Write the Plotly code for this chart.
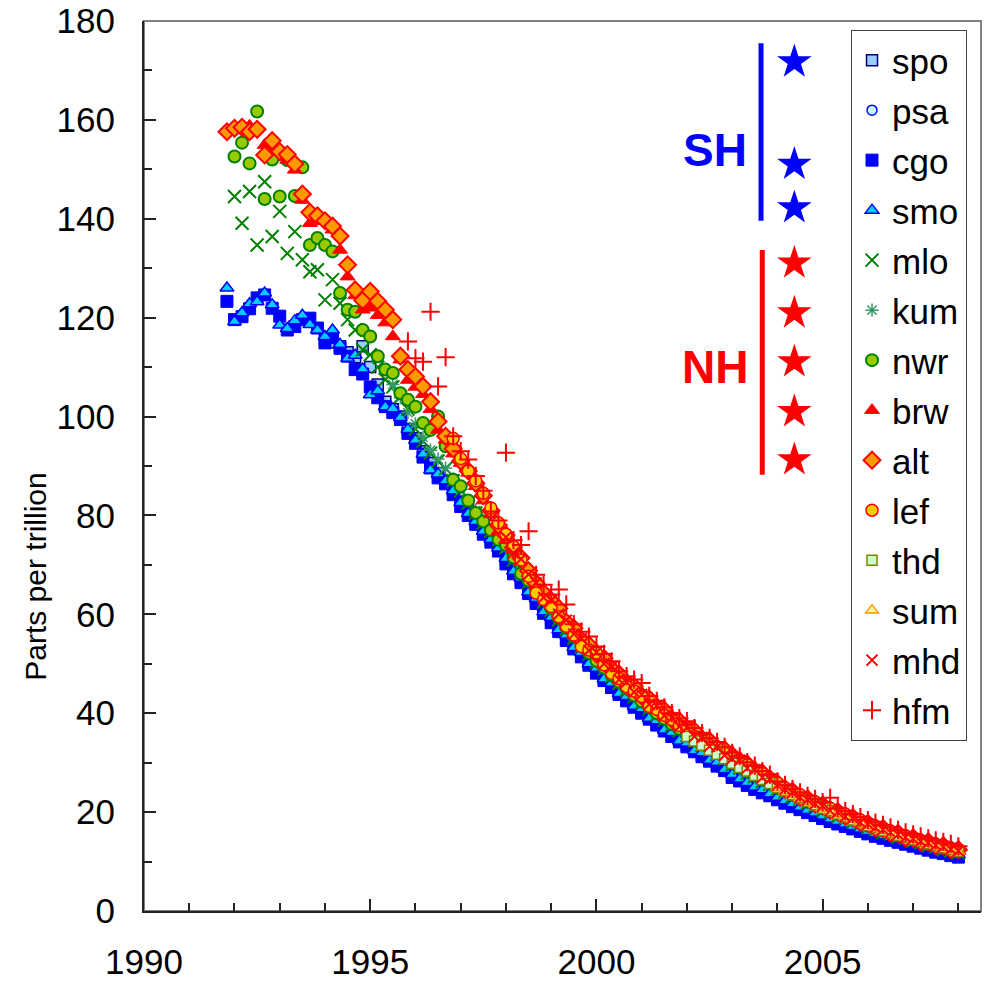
import plotly.graph_objects as go

# ---------------- data (ppt), 2-monthly samples ----------------
STEP = 1.0 / 6.0
GRID0 = 1991.0 + 10.0 / 12.0   # first sample time (Nov 1991)

spo_start = 13
spo = [115.5, 115.0, 114.2, 113.0, 112.0, 114.2,
       110.0, 106.5, 103.0, 101.5, 100.0, 97.5,
       95.6, 93.0, 90.6, 88.6, 87.0, 85.2,
       82.8, 81.0, 79.0, 77.2, 75.4, 73.6,
       71.2, 69.0, 67.0, 65.0, 63.0, 61.0,
       59.0, 57.2, 55.4, 53.6, 51.9, 50.2,
       48.6, 47.1, 45.6, 44.2, 42.9, 41.6,
       40.3, 39.1, 37.9, 36.8, 35.7, 34.6,
       33.5, 32.5, 31.5, 30.6, 29.7, 28.8,
       27.3, 26.4, 25.7, 24.8, 24.2, 23.4,
       22.7, 22.0, 21.3, 20.7, 20.1, 19.5,
       18.9, 18.3, 17.8, 17.3, 16.8, 16.3,
       15.8, 15.3, 14.9, 14.5, 14.1, 13.7,
       13.3, 12.9, 12.5, 12.1, 11.8, 11.4,
       11.1]

psa_start = 31
psa = [82.4, 80.6, 78.6, 76.8, 75.0, 73.2,
       70.8, 68.6, 66.7, 64.6, 62.6, 60.6,
       58.7, 56.9, 55.1, 53.3, 51.6, 50.0,
       48.4, 46.9, 45.4, 44.0, 42.7, 41.4,
       40.2, 39.0, 37.8, 36.6, 35.5, 34.4,
       33.4, 32.4, 31.4, 30.5, 29.6, 28.7,
       27.4, 26.6, 25.8, 25.0, 24.3, 23.6,
       22.9, 22.2, 21.5, 20.9, 20.3, 19.7,
       19.1, 18.5, 18.0, 17.5, 17.0, 16.5,
       16.0, 15.5, 15.1, 14.7, 14.3, 13.9,
       13.5, 13.1, 12.7, 12.3, 12.0, 11.6,
       11.3]

cgo_start = 0
cgo = [123.3,
       119.6, 120.2, 121.8, 124.0, 124.6, 121.9,
       120.3, 117.5, 118.2, 119.6, 119.9, 117.9,
       114.9, 116.0, 113.8, 112.2, 109.5, 108.6,
       106.0, 103.8, 102.0, 100.8, 99.4, 96.6,
       94.6, 91.8, 89.6, 87.6, 86.4, 84.2,
       81.8, 80.0, 78.2, 76.2, 74.6, 72.8,
       70.2, 68.2, 66.4, 64.2, 62.2, 60.2,
       58.3, 56.5, 54.7, 53.0, 51.4, 49.7,
       48.1, 46.6, 45.2, 43.8, 42.5, 41.2,
       40.0, 38.8, 37.6, 36.4, 35.3, 34.2,
       33.2, 32.2, 31.2, 30.3, 29.3, 28.4,
       27.0, 26.3, 25.4, 24.6, 23.9, 23.3,
       22.5, 21.8, 21.1, 20.5, 19.9, 19.3,
       18.7, 18.1, 17.6, 17.1, 16.6, 16.1,
       15.6, 15.1, 14.7, 14.3, 13.9, 13.5,
       13.1, 12.7, 12.3, 11.9, 11.6, 11.2,
       10.9]

smo_start = 0
smo = [126.0,
       119.2, 121.0, 122.8, 123.2, 125.0, 122.6,
       118.5, 117.8, 119.4, 120.5, 118.6, 117.5,
       116.2, 117.5, 114.6, 111.8, 112.4, 109.6,
       104.4, 105.2, 102.0, 101.6, 99.8, 97.4,
       95.2, 92.4, 89.2, 88.4, 87.0, 85.0,
       82.6, 80.4, 78.8, 76.8, 75.2, 73.4,
       71.3, 68.7, 67.3, 64.5, 63.2, 60.5,
       59.4, 56.9, 55.8, 53.3, 52.3, 50.0,
       49.1, 46.9, 46.1, 44.0, 43.4, 41.4,
       40.9, 39.0, 38.5, 36.6, 36.1, 34.4,
       34.0, 32.4, 32.0, 30.5, 30.1, 28.6,
       27.6, 26.7, 26.0, 25.1, 24.5, 23.7,
       23.0, 22.3, 21.7, 21.0, 20.4, 19.8,
       19.2, 18.6, 18.1, 17.6, 17.1, 16.6,
       16.1, 15.6, 15.2, 14.8, 14.4, 14.0,
       13.6, 13.2, 12.8, 12.4, 12.1, 11.7,
       11.4]

mlo_start = 1
mlo = [144.5, 139.1, 145.5, 134.7, 147.5, 136.4,
       141.5, 133.0, 137.4, 131.7, 129.3, 129.7,
       123.6, 127.7, 122.9, 119.6, 117.5, 113.5,
       112.5, 110.0, 107.5, 106.0, 104.0, 101.5,
       97.5, 95.0, 92.6, 91.0, 89.5, 87.0,
       85.0, 82.5, 80.5, 78.5, 76.8, 75.0,
       73.5, 71.0, 68.5, 66.5, 65.0, 62.5,
       60.8, 58.9, 57.0, 55.2, 53.5, 51.9,
       50.3, 48.9, 47.4, 46.0, 44.7, 43.3,
       42.1, 40.9, 39.7, 38.6, 37.5, 36.5,
       35.5, 34.5, 33.5, 32.6, 31.7, 30.8,
       29.6, 28.9, 27.8, 27.2, 26.2, 25.6,
       24.6, 24.0, 23.1, 22.6, 21.8, 21.3,
       20.4, 19.9, 19.1, 18.8, 18.0, 17.7,
       16.9, 16.5, 15.8, 15.6, 14.9, 14.7,
       14.1, 13.8, 13.2, 13.0, 12.4, 12.2,
       11.8]

kum_start = 22
kum = [106.5, 103.8, 100.8,
       98.5, 95.8, 93.2, 91.4, 89.6, 87.4,
       85.3, 83.0, 81.0, 79.0, 77.0, 75.2,
       73.4, 71.2, 68.8, 66.7, 64.8, 62.7,
       60.9, 59.0, 57.1, 55.3, 53.6, 52.0,
       50.4, 49.0, 47.5, 46.1, 44.8, 43.5,
       42.2, 41.0, 39.8, 38.7, 37.6, 36.6,
       35.6, 34.6, 33.6, 32.7, 31.8, 30.9,
       29.8, 28.8, 28.0, 27.1, 26.4, 25.5,
       24.7, 23.9, 23.3, 22.5, 22.0, 21.2,
       20.5, 19.8, 19.3, 18.6, 18.2, 17.6,
       17.0, 16.4, 16.0, 15.5, 15.1, 14.6,
       14.2, 13.7, 13.4, 12.9, 12.6, 12.1,
       11.9]

nwr_start = 1
nwr = [152.6, 155.4, 151.2, 161.7, 144.0, 152.0,
       144.5, 151.9, 144.6, 150.4, 134.7, 136.1,
       134.7, 133.4, 125.0, 121.6, 121.2, 117.5,
       116.2, 112.2, 109.5, 108.8, 104.7, 103.4,
       102.0, 98.7, 97.3, 100.0, 94.0, 87.2,
       85.9, 83.0, 80.5, 78.8, 77.0, 75.1,
       74.0, 71.5, 68.2, 66.8, 65.2, 63.0,
       61.2, 59.2, 57.3, 55.5, 53.8, 52.2,
       50.6, 49.2, 47.7, 46.3, 45.0, 43.6,
       42.4, 41.2, 40.0, 38.9, 37.8, 36.8,
       35.8, 34.8, 33.8, 32.9, 32.0, 31.1,
       29.9, 29.1, 28.2, 27.4, 26.6, 25.8,
       24.9, 24.2, 23.5, 22.8, 22.1, 21.5,
       20.8, 20.2, 19.6, 19.0, 18.5, 17.9,
       17.3, 16.8, 16.3, 15.8, 15.4, 14.9,
       14.5, 14.0, 13.6, 13.2, 12.8, 12.4,
       12.0]

brw_start = 3
brw = [158.8, 158.5, 154.9, 153.6,
       153.6, 151.9, 149.9, 143.8, 139.1, 141.0,
       139.5, 137.8, 133.7, 128.3, 124.5, 121.6,
       122.0, 120.5, 119.0, 116.2, 111.5, 107.4,
       106.0, 104.5, 101.5, 97.3, 95.3, 92.5,
       90.6, 88.6, 85.9, 83.0, 80.2, 76.8,
       75.0, 73.0, 70.6, 68.3, 65.8, 63.8,
       62.0, 60.0, 58.6, 56.0, 54.9, 52.7,
       52.1, 50.0, 49.1, 46.8, 46.1, 44.3,
       43.6, 41.8, 41.3, 39.5, 38.9, 37.3,
       36.9, 35.3, 34.9, 33.3, 33.0, 31.5,
       31.0, 30.3, 29.0, 28.4, 27.2, 26.5,
       25.3, 24.8, 23.7, 23.2, 22.3, 21.9,
       21.0, 20.6, 19.8, 19.4, 18.6, 18.2,
       17.4, 17.1, 16.4, 16.1, 15.4, 15.1,
       14.5, 14.3, 13.7, 13.5, 12.9, 12.7,
       12.1]

alt_start = 0
alt = [157.6,
       158.3, 158.5, 157.6, 158.1, 152.9, 155.8,
       153.6, 153.0, 151.1, 145.0, 141.3, 140.6,
       139.6, 138.5, 136.5, 130.7, 125.6, 123.5,
       125.3, 123.3, 121.6, 119.6, 112.2, 109.5,
       108.1, 106.1, 103.0, 99.0, 96.0, 93.5,
       91.0, 89.0, 86.5, 84.0, 81.0, 78.0,
       76.0, 73.5, 71.4, 68.8, 66.3, 64.3,
       62.7, 61.2, 58.4, 57.2, 54.8, 53.8,
       52.0, 51.1, 49.0, 47.9, 46.0, 45.4,
       43.5, 42.9, 41.2, 40.6, 38.8, 38.4,
       36.8, 36.4, 34.8, 34.4, 33.0, 32.6,
       31.5, 30.4, 29.7, 28.4, 27.9, 26.7,
       25.8, 24.7, 24.2, 23.0, 22.7, 21.6,
       21.4, 20.4, 20.1, 19.2, 18.9, 17.9,
       17.7, 16.8, 16.7, 15.8, 15.7, 14.8,
       14.8, 14.0, 14.0, 13.2, 13.2, 12.4,
       12.4]

lef_start = 30
lef = [95.6,
       91.5, 89.0, 87.0, 84.5, 81.5, 78.5,
       76.2, 73.7, 71.0, 67.7, 64.3, 63.0,
       61.6, 59.5, 57.6, 55.8, 53.5, 52.8,
       52.2, 49.8, 48.1, 47.0, 45.4, 44.5,
       43.4, 41.4, 40.8, 39.6, 38.7, 37.5,
       36.6, 35.3, 34.5, 33.5, 33.0, 31.9,
       31.2, 30.0, 29.6, 28.1, 27.8, 26.4,
       25.9, 24.9, 24.0, 23.5, 22.5, 22.1,
       21.2, 20.8, 19.9, 19.6, 18.6, 18.4,
       17.5, 17.2, 16.4, 16.2, 15.3, 15.2,
       14.5, 14.3, 13.6, 13.5, 12.8, 12.7,
       12.1]

thd_start = 61
thd = [35.3, 34.4, 33.5, 32.5, 31.7, 30.8,
       29.9, 29.0, 28.3, 27.4, 26.6, 25.8,
       25.0, 24.3, 23.5, 22.9, 22.2, 21.5,
       20.8, 20.3, 19.6, 19.1, 18.4, 18.0,
       17.3, 16.9, 16.3, 15.9, 15.3, 15.0,
       14.4, 14.1, 13.6, 13.3, 12.8, 12.5,
       12.1]

sum_start = 73
sum_ = [24.9, 24.2, 23.5, 22.8, 22.1, 21.5,
        20.8, 20.2, 19.6, 19.0, 18.5, 17.9,
        17.3, 16.8, 16.3, 15.8, 15.4, 14.9,
        14.4, 14.0, 13.6, 13.2, 12.8, 12.4,
        12.0]

mhd_start = 37
mhd = [75.6, 72.4, 71.2, 68.1, 66.4, 63.4,
       62.8, 60.0, 58.8, 56.0, 55.1, 52.7,
       52.3, 50.0, 49.3, 46.8, 46.3, 44.3,
       43.8, 41.8, 41.5, 39.5, 39.1, 37.3,
       37.1, 35.3, 35.1, 33.3, 33.2, 31.5,
       30.8, 30.5, 28.9, 28.6, 27.0, 26.7,
       25.4, 24.6, 23.9, 23.0, 22.5, 21.7,
       21.2, 20.3, 20.0, 19.1, 18.8, 17.9,
       17.6, 16.9, 16.5, 15.9, 15.5, 14.9,
       14.6, 14.1, 13.8, 13.3, 13.0, 12.5,
       12.2]

hfm_start = 24
hfm = [115.2,
       111.8, 111.1, 121.2, 106.1, 112.0, 96.0,
       93.0, 91.3, 88.0, 85.0, 80.8, 79.0,
       92.7, 75.0, 74.0, 76.8, 68.0, 66.0,
       64.0, 65.0, 62.0, 58.0, 56.5, 55.5,
       53.5, 52.0, 50.5, 48.5, 47.5, 46.8,
       46.1, 43.5, 42.5, 41.2, 40.0, 39.0,
       38.4, 37.0, 36.0, 35.0, 34.2, 33.2,
       32.0, 31.3, 30.1, 29.4, 28.3, 27.6,
       26.2, 25.5, 24.7, 24.0, 23.3, 22.7,
       22.0, 22.9, 20.8, 20.2, 19.6, 19.0,
       18.4, 17.9, 17.4, 16.9, 16.4, 15.9,
       15.5, 15.1, 14.7, 14.3, 14.0, 13.6,
       13.1]

x_ticks = [1990, 1995, 2000, 2005]
y_ticks = [0, 20, 40, 60, 80, 100, 120, 140, 160, 180]

# ---------------- styling ----------------
FONT = "Liberation Sans, Arial, sans-serif"

series = [
    ("spo", spo_start, spo, dict(symbol="square", size=11, color="#99CCFF", line=dict(color="#000080", width=1.5))),
    ("psa", psa_start, psa, dict(symbol="circle", size=10, color="#CCFFFF", line=dict(color="#0000FF", width=1.5))),
    ("cgo", cgo_start, cgo, dict(symbol="square", size=12, color="#0000FF", line=dict(color="#0000FF", width=1))),
    ("smo", smo_start, smo, dict(symbol="triangle-up", size=12, color="#00CCFF", line=dict(color="#0000FF", width=1.5))),
    ("mlo", mlo_start, mlo, dict(symbol="x-thin", size=13, color="#008000", line=dict(color="#008000", width=2))),
    ("kum", kum_start, kum, dict(symbol="asterisk", size=11, color="#339966", line=dict(color="#339966", width=1.5))),
    ("nwr", nwr_start, nwr, dict(symbol="circle", size=12, color="#99CC00", line=dict(color="#008000", width=2))),
    ("brw", brw_start, brw, dict(symbol="triangle-up", size=13, color="#FF0000", line=dict(color="#FF0000", width=1))),
    ("alt", alt_start, alt, dict(symbol="diamond", size=13, color="#FF9900", line=dict(color="#FF0000", width=2))),
    ("lef", lef_start, lef, dict(symbol="circle", size=12, color="#FFCC00", line=dict(color="#FF0000", width=1.5))),
    ("thd", thd_start, thd, dict(symbol="square", size=10, color="#CCFFCC", line=dict(color="#808000", width=1.5))),
    ("sum", sum_start, sum_, dict(symbol="triangle-up", size=11, color="#FFFF99", line=dict(color="#FF9900", width=1.5))),
    ("mhd", mhd_start, mhd, dict(symbol="x-thin", size=11, color="#FF0000", line=dict(color="#FF0000", width=2))),
    ("hfm", hfm_start, hfm, dict(symbol="cross-thin", size=13, color="#FF0000", line=dict(color="#FF0000", width=2))),
]

fig = go.Figure()
for name, start, vals, mk in series:
    xs = [GRID0 + (start + i) * STEP for i in range(len(vals))]
    fig.add_trace(go.Scatter(x=xs, y=vals, mode="markers", name=name,
                             legendgroup=name, marker=mk))

# hemisphere stars (decoration, on an invisible 0..1 overlay axis)
star_x = [0.777] * 8
star_y = [0.954, 0.839, 0.790, 0.728, 0.672, 0.617, 0.561, 0.507]
star_c = ["#0000FF"] * 3 + ["#FF0000"] * 5
fig.add_trace(go.Scatter(x=star_x, y=star_y, mode="markers", xaxis="x2", yaxis="y2",
                         showlegend=False, hoverinfo="skip",
                         marker=dict(symbol="star", size=26, color=star_c, line=dict(width=0))))

fig.update_layout(
    width=986, height=981,
    margin=dict(l=144, r=5, t=21, b=70),
    paper_bgcolor="white", plot_bgcolor="white",
    font=dict(family=FONT, color="black"),
    showlegend=True,
    legend=dict(x=0.8447, y=0.99, xanchor="left", yanchor="top",
                font=dict(family=FONT, size=35, color="black"),
                bgcolor="white", bordercolor="#404040", borderwidth=1,
                traceorder="grouped", tracegroupgap=1.5, itemsizing="trace"),
    xaxis=dict(range=[1990, 2008.5], tickvals=x_ticks, ticks="inside", ticklen=12,
               tickwidth=1.5, tickcolor="#222", showline=True, linecolor="#222", linewidth=2,
               showgrid=False, zeroline=False, tickfont=dict(size=35, family=FONT),
               ticklabelstandoff=19, automargin=False,
               minor=dict(dtick=1, tick0=1990, ticks="inside", ticklen=8, tickcolor="#222", tickwidth=1.5, showgrid=False)),
    yaxis=dict(range=[0, 180], tickvals=y_ticks, ticks="inside", ticklen=12,
               tickwidth=1.5, tickcolor="#222", showline=True, linecolor="#222", linewidth=2,
               showgrid=False, zeroline=False, tickfont=dict(size=35, family=FONT),
               ticklabelstandoff=20, automargin=False,
               minor=dict(dtick=10, tick0=0, ticks="inside", ticklen=8, tickcolor="#222", tickwidth=1.5, showgrid=False)),
    xaxis2=dict(overlaying="x", range=[0, 1], visible=False),
    yaxis2=dict(overlaying="y", range=[0, 1], visible=False),
    shapes=[
        dict(type="rect", xref="paper", yref="paper", x0=0, y0=0, x1=1, y1=1,
             line=dict(color="#808080", width=2), layer="below"),
        dict(type="line", xref="paper", yref="paper", x0=0.7372, x1=0.7372, y0=0.7757, y1=0.975,
             line=dict(color="#0000FF", width=5)),
        dict(type="line", xref="paper", yref="paper", x0=0.7387, x1=0.7387, y0=0.4902, y1=0.7428,
             line=dict(color="#FF0000", width=5)),
    ],
    annotations=[
        dict(text="<b>SH</b>", xref="paper", yref="paper", x=0.682, y=0.855, showarrow=False,
             xanchor="center", yanchor="middle",
             font=dict(family=FONT, size=46, color="#0000FF")),
        dict(text="<b>NH</b>", xref="paper", yref="paper", x=0.682, y=0.6115, showarrow=False,
             xanchor="center", yanchor="middle",
             font=dict(family=FONT, size=46, color="#FF0000")),
        dict(text="Parts per trillion", xref="paper", yref="paper", x=-0.129, y=0.3756,
             xanchor="center", yanchor="middle",
             textangle=-90, showarrow=False, font=dict(family=FONT, size=30, color="black")),
    ],
)

fig.write_html("out.html", config={"displayModeBar": False},
               post_script="document.body.style.margin='0';")
